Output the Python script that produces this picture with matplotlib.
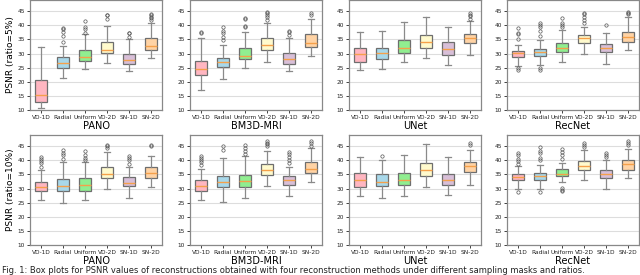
import matplotlib
matplotlib.use("Agg")
import matplotlib.pyplot as plt

# --- Data (PSNR box statistics) ---
MASKS = ["VD-1D", "Radial", "Uniform", "VD-2D", "SN-1D", "SN-2D"]
METHODS = ["PANO", "BM3D-MRI", "UNet", "RecNet"]
RATIO_LABELS = ["PSNR (ratio=5%)", "PSNR (ratio=10%)"]

BOX_COLORS = ["#ffb6c1", "#a8d8ea", "#90ee90", "#fffacd", "#d8bfd8", "#ffd3a5"]

# each entry: (whislo, q1, median, q3, whishi) per mask
PANO_5 = [(10.6, 12.7, 15.3, 20.6, 32.5), (21.2, 25.0, 26.8, 28.7, 32.8),
          (24.7, 27.4, 28.7, 31.3, 37.1), (26.5, 30.1, 31.3, 34.2, 39.9),
          (23.8, 26.2, 27.7, 29.7, 35.1), (28.3, 31.3, 32.8, 35.4, 41.0)]
PANO_5_FLIERS = [[], [34.1, 36.2, 37.7, 38.6, 39.0], [37.4, 38.6, 39.3, 41.7],
                 [42.3, 43.6, 43.8], [36.0, 37.2, 37.4], [41.9, 42.6, 43.1, 43.7, 44.0]]

BM3D_5 = [(17.1, 22.3, 24.5, 27.5, 35.4), (21.1, 25.4, 27.0, 28.3, 33.0),
          (24.8, 28.0, 29.1, 31.9, 37.8), (27.1, 31.3, 33.0, 35.4, 40.7),
          (24.0, 26.3, 28.0, 30.1, 35.4), (29.3, 32.5, 33.9, 37.0, 42.4)]
BM3D_5_FLIERS = [[37.2, 37.5], [34.8, 36.0, 37.2, 38.1, 39.3], [39.6, 39.8, 42.2, 42.5],
                 [41.9, 42.8, 43.6, 44.3, 44.8], [36.6, 37.5, 38.1], [43.8, 44.3]]

UNET_5 = [(24.1, 27.0, 29.7, 32.1, 37.5), (24.4, 28.1, 30.1, 32.1, 38.1),
          (27.0, 30.1, 32.1, 34.7, 41.2), (28.3, 32.1, 34.2, 36.5, 43.0),
          (25.8, 29.6, 31.7, 34.1, 39.3), (29.5, 33.9, 35.4, 37.1, 41.7)]
UNET_5_FLIERS = [[], [], [], [], [], [42.4, 43.3, 43.8, 44.3]]

RECNET_5 = [(25.7, 28.9, 30.1, 31.0, 32.9), (25.8, 29.1, 30.4, 31.6, 34.8),
            (26.9, 30.7, 32.1, 33.9, 38.4), (29.9, 33.6, 35.4, 36.6, 39.6),
            (26.3, 30.4, 31.9, 33.4, 37.4), (31.3, 34.2, 35.8, 37.8, 42.9)]
RECNET_5_FLIERS = [[24.8, 24.2, 35.0, 36.8, 37.4, 39.1],
                   [24.8, 24.2, 36.2, 38.1, 39.3, 40.1, 40.7],
                   [39.3, 40.1, 40.7, 42.5], [40.7, 41.9, 43.1, 44.0, 44.5],
                   [40.1], [44.0, 44.5, 44.9]]

PANO_10 = [(25.8, 29.0, 30.5, 32.2, 36.7), (24.8, 29.0, 30.8, 33.4, 39.3),
           (26.0, 29.3, 31.1, 33.7, 39.4), (30.0, 33.7, 35.3, 37.6, 43.0),
           (26.6, 30.8, 31.9, 34.0, 37.6), (30.5, 33.7, 35.7, 37.5, 41.4)]
PANO_10_FLIERS = [[37.6, 39.1, 39.7, 40.5, 41.2], [40.5, 41.9, 42.6, 43.6],
                  [40.2, 40.8, 42.0, 43.3], [44.3, 45.0, 45.6],
                  [38.6, 40.0, 40.8, 41.7], [45.0, 45.6]]

BM3D_10 = [(25.8, 29.3, 30.8, 32.9, 36.9), (25.1, 30.4, 32.3, 34.6, 40.8),
           (26.6, 30.5, 32.8, 34.9, 41.4), (31.0, 34.9, 36.5, 38.7, 43.2),
           (27.4, 31.4, 32.9, 34.3, 37.6), (32.2, 35.5, 37.0, 39.4, 44.3)]
BM3D_10_FLIERS = [[38.5, 39.3, 40.0, 40.8, 41.7], [43.6, 45.0],
                  [42.1, 43.2, 44.4, 45.6], [45.0, 45.7, 46.2, 46.7],
                  [39.1, 40.2, 41.2, 42.1, 42.9], [45.2, 46.2, 46.7]]

UNET_10 = [(27.2, 30.5, 32.9, 35.5, 41.2), (26.8, 30.8, 32.5, 35.1, 40.0),
           (27.4, 31.1, 33.1, 35.5, 42.0), (30.4, 34.3, 36.5, 39.1, 45.8),
           (27.8, 31.1, 33.1, 35.1, 41.2), (31.4, 35.9, 37.9, 39.5, 43.8)]
UNET_10_FLIERS = [[], [41.7], [], [], [], [45.6, 46.2]]

RECNET_10 = [(29.9, 32.9, 34.1, 35.0, 38.0), (29.9, 33.1, 34.3, 35.5, 38.2),
             (32.3, 34.3, 35.0, 36.8, 39.2), (32.9, 36.5, 38.0, 39.7, 43.8),
             (29.9, 33.7, 35.3, 36.7, 40.0), (33.7, 36.5, 38.8, 40.0, 44.2)]
RECNET_10_FLIERS = [[28.7, 38.8, 39.7, 40.6, 41.8, 42.7],
                    [28.7, 40.0, 40.8, 42.7, 43.2, 44.8],
                    [30.2, 29.6, 29.2, 40.6, 41.8, 43.0, 44.2],
                    [44.8, 45.6, 46.3], [41.2, 42.0, 42.7], [45.4, 46.3, 46.8]]

ROWS = [
    [(PANO_5, PANO_5_FLIERS), (BM3D_5, BM3D_5_FLIERS),
     (UNET_5, UNET_5_FLIERS), (RECNET_5, RECNET_5_FLIERS)],
    [(PANO_10, PANO_10_FLIERS), (BM3D_10, BM3D_10_FLIERS),
     (UNET_10, UNET_10_FLIERS), (RECNET_10, RECNET_10_FLIERS)],
]

YTICKS = [10, 15, 20, 25, 30, 35, 40, 45]

CAPTION = ("Fig. 1: Box plots for PSNR values of reconstructions obtained with four "
           "reconstruction methods under different sampling masks and ratios.")

# --- Layout (pixels, converted to figure fractions) ---
W, H = 640, 275
COL_LEFT = [30, 190, 349, 507]
COL_WIDTH = 132
ROW_TOP = [0, 135]
ROW_HEIGHT = 110


def make_stats(boxes, fliers):
    stats = []
    for (lo, q1, med, q3, hi), fl in zip(boxes, fliers):
        stats.append({"whislo": lo, "q1": q1, "med": med, "q3": q3,
                      "whishi": hi, "fliers": fl})
    return stats


fig = plt.figure(figsize=(W / 100, H / 100), dpi=100)

for r, row in enumerate(ROWS):
    for c, (boxes, fliers) in enumerate(row):
        left = COL_LEFT[c] / W
        bottom = 1 - (ROW_TOP[r] + ROW_HEIGHT) / H
        ax = fig.add_axes([left, bottom, COL_WIDTH / W, ROW_HEIGHT / H])

        res = ax.bxp(make_stats(boxes, fliers), patch_artist=True, widths=0.55,
                     boxprops=dict(edgecolor="#6e6e6e", linewidth=0.9),
                     whiskerprops=dict(color="#8a8a8a", linewidth=0.9),
                     capprops=dict(color="#8a8a8a", linewidth=0.9),
                     medianprops=dict(color="#f5a04a", linewidth=1.0),
                     flierprops=dict(marker="o", markersize=2.4,
                                     markerfacecolor="none",
                                     markeredgecolor="#555555",
                                     markeredgewidth=0.5))
        for patch, col in zip(res["boxes"], BOX_COLORS):
            patch.set_facecolor(col)

        ax.set_ylim(10, 49)
        ax.set_yticks(YTICKS)
        ax.set_xticks(range(1, len(MASKS) + 1))
        ax.set_xticklabels(MASKS)
        ax.tick_params(axis="both", labelsize=4.2, length=2, width=0.6,
                       pad=1.5, colors="#222222")
        ax.yaxis.grid(True, color="#dddddd", linewidth=0.8)
        ax.set_axisbelow(True)
        for sp in ax.spines.values():
            sp.set_color("#888888")
            sp.set_linewidth(0.9)
        ax.set_xlabel(METHODS[c], fontsize=7, labelpad=0.5)
        if c == 0:
            ax.set_ylabel(RATIO_LABELS[r], fontsize=6.5, labelpad=2)

fig.text(0.003, 0.006, CAPTION, fontsize=6, va="baseline", ha="left",
         color="#222222")

fig.savefig("out.png", dpi=100)
